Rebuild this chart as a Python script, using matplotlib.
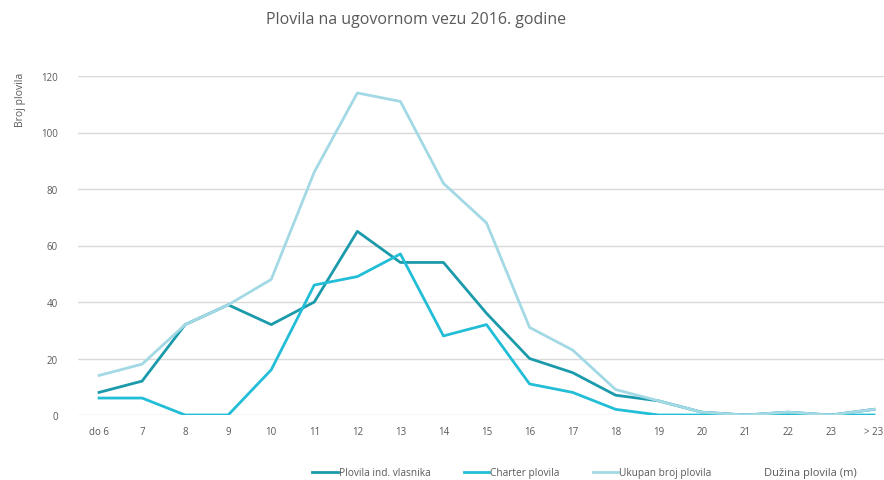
import matplotlib
matplotlib.use("Agg")
import matplotlib.pyplot as plt

categories = ["do 6", "7", "8", "9", "10", "11", "12", "13", "14", "15", "16",
              "17", "18", "19", "20", "21", "22", "23", "> 23"]
ind_vlasnika = [8, 12, 32, 39, 32, 40, 65, 54, 54, 36, 20, 15, 7, 5, 1, 0, 1, 0, 2]
charter = [6, 6, 0, 0, 16, 46, 49, 57, 28, 32, 11, 8, 2, 0, 0, 0, 0, 0, 0]
ukupno = [14, 18, 32, 39, 48, 86, 114, 111, 82, 68, 31, 23, 9, 5, 1, 0, 1, 0, 2]

plt.rcParams['font.family'] = ['Open Sans', 'DejaVu Sans']
gray = '#595959'

fig = plt.figure(figsize=(8.84, 4.81), dpi=100)
ax = fig.add_axes([77.5/884, 1-416/481, (895.5-77.5)/884, (416-77)/481])

x = list(range(len(categories)))
l1, = ax.plot(x, ind_vlasnika, color='#1b9aab', lw=2.0, label='Plovila ind. vlasnika', zorder=2)
l2, = ax.plot(x, charter, color='#22bdd6', lw=2.0, label='Charter plovila', zorder=3)
l3, = ax.plot(x, ukupno, color='#a3d9e5', lw=2.0, label='Ukupan broj plovila', zorder=4)

ax.set_xlim(-0.5, len(categories)-0.5)
ax.set_ylim(0, 120)
ax.set_yticks(range(0, 121, 20))
ax.set_xticks(x)
ax.set_xticklabels(categories)
ax.grid(axis='y', color='#d9d9d9', lw=1)
ax.set_axisbelow(True)
for s in ax.spines.values():
    s.set_visible(False)
ax.tick_params(length=0, labelsize=7, labelcolor=gray, pad=8)
ax.tick_params(axis='y', pad=14)

fig.text(416/884, 1-20/481, 'Plovila na ugovornom vezu 2016. godine', ha='center', va='center',
         fontsize=11.5, color=gray)
fig.text(20/884, 1-100/481, 'Broj plovila', rotation=90, ha='center', va='center',
         fontsize=7.5, color=gray)
fig.text(810/884, 1-474/481, 'Dužina plovila (m)', ha='center', va='center',
         fontsize=8, color=gray)

fig.legend(handles=[l1, l2, l3], loc='center', bbox_to_anchor=(512/884, 1-474/481), ncol=3,
           frameon=False, fontsize=7.3, labelcolor=gray, handlelength=2.5, handletextpad=0.1,
           columnspacing=3.3)

fig.savefig('out.png', dpi=100)
